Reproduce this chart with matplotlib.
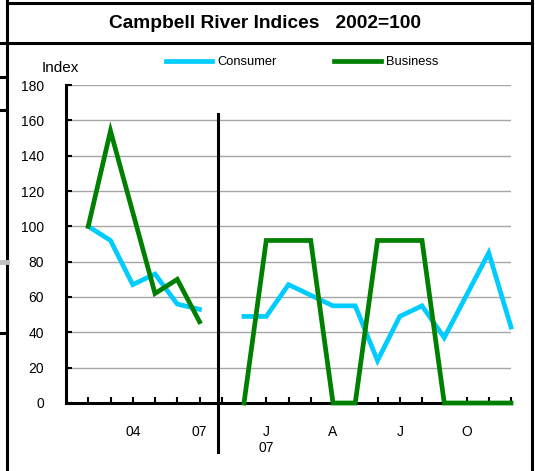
import matplotlib.pyplot as plt
from matplotlib.lines import Line2D

plt.rcParams['font.family'] = ['Liberation Sans', 'DejaVu Sans']

# left block (quarters) and right block (months), category positions
left_pos = [1, 2, 3, 4, 5, 6]
consumer_left = [100, 92, 67, 73, 56, 53]
business_left = [100, 154, 108, 62, 70, 46]

right_pos = [8, 9, 10, 11, 12, 13, 14, 15, 16, 17, 18, 19, 20]
consumer_right = [49, 49, 67, 61, 55, 55, 24, 49, 55, 37, 61, 85, 43]
business_right = [0, 92, 92, 92, 0, 0, 92, 92, 92, 0, 0, 0, 0]

tick_pos = [3, 6, 9, 12, 15, 18]
tick_labels = ['04', '07', 'J\n07', 'A', 'J', 'O']
yticks = [0, 20, 40, 60, 80, 100, 120, 140, 160, 180]

cyan = '#00CCFF'
green = '#008000'

W, H = 535, 471
fig = plt.figure(figsize=(W / 100, H / 100), dpi=100)
ax = fig.add_axes([66 / W, 1 - 403 / H, (511 - 66) / W, (403 - 85) / H])

# Plot series (business drawn on top)
kw = dict(lw=3.4, solid_joinstyle='miter', clip_on=False)
ax.plot(left_pos, consumer_left, color=cyan, label='Consumer', **kw)
ax.plot(right_pos, consumer_right, color=cyan, **kw)
ax.plot(left_pos, business_left, color=green, label='Business', **kw)
ax.plot(right_pos, business_right, color=green, **kw)

# divider between the two periods
ax.axvline(6.85, ymin=-0.155, ymax=0.908, color='black', lw=2.2, clip_on=False)

ax.set_xlim(0, 20)
ax.set_ylim(0, 180)
ax.set_yticks(yticks)
ax.yaxis.grid(True, color='#a6a6a6', lw=1)
ax.set_axisbelow(True)

ax.set_xticks(range(1, 21))
labels = [''] * 20
for p, t in zip(tick_pos, tick_labels):
    labels[p - 1] = t
ax.set_xticklabels(labels)

for s in ['top', 'right']:
    ax.spines[s].set_visible(False)
for s in ['left', 'bottom']:
    ax.spines[s].set_linewidth(2.2)
    ax.spines[s].set_color('black')
    ax.spines[s].set_zorder(1)

ax.tick_params(axis='both', direction='in', length=4, width=1.5, color='black',
               labelsize=10, pad=16)

# Index label
fig.text(42 / W, 1 - 68 / H, 'Index', fontsize=11, ha='left', va='center')

# legend
ax.legend(loc='center left', bbox_to_anchor=(165.7 / W, 1 - 62.3 / H),
          bbox_transform=fig.transFigure, ncol=2, frameon=False, fontsize=9.3,
          handlelength=3.6, handletextpad=0.4, columnspacing=4.45,
          borderpad=0, borderaxespad=0)

# title
fig.text(265 / W, 1 - 24 / H, 'Campbell River Indices   2002=100',
         fontsize=13.8, fontweight='bold', ha='center', va='center')

# sheet borders
def hline(x0, x1, y, color='black', lw=2.2):
    fig.add_artist(Line2D([x0 / W, x1 / W], [1 - y / H, 1 - y / H], color=color, lw=lw))

def vline(x, y0, y1, color='black', lw=2.2):
    fig.add_artist(Line2D([x / W, x / W], [1 - y0 / H, 1 - y1 / H], color=color, lw=lw))

hline(7, 532, 3)
hline(0, 532, 43)
vline(7, 0, 471)
vline(532, 0, 471)
hline(0, 7, 77)
hline(0, 7, 110)
hline(0, 7, 333)
hline(0, 7, 262, color='#c0c0c0', lw=3.5)

fig.savefig('out.png', dpi=100)
